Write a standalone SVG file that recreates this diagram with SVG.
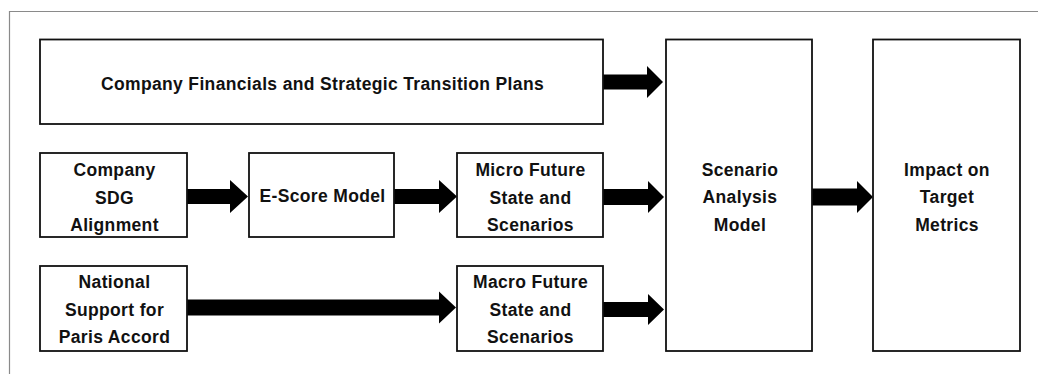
<svg xmlns="http://www.w3.org/2000/svg" width="1038" height="374" viewBox="0 0 1038 374">
  <style>
    .box { fill: #ffffff; stroke: #111111; stroke-width: 1.8; }
    .lbl { font-family: "Liberation Sans", Arial, sans-serif; font-weight: bold; font-size: 17.5px; letter-spacing: 0.35px; fill: #111111; text-anchor: middle; }
    .arrow { fill: #000000; stroke: none; }
    .frame { fill: none; stroke: #8a8a8a; stroke-width: 1.2; }
  </style>
  <rect width="1038" height="374" fill="#ffffff"/>
  <path class="frame" d="M9.5,374 L9.5,11.5 L1038,11.5"/>

  <g id="connectors">
    <polygon class="arrow" points="603,74.5 647,74.5 647,66 663,82 647,98 647,89.5 603,89.5"/>
    <polygon class="arrow" points="187,189 230,189 230,180 248,196.5 230,213 230,204 187,204"/>
    <polygon class="arrow" points="394,189 439,189 439,180 457,196.5 439,213 439,204 394,204"/>
    <polygon class="arrow" points="603,189 648,189 648,181 664,197 648,213 648,205 603,205"/>
    <polygon class="arrow" points="187,299.5 439,299.5 439,291.5 456,307.5 439,323.5 439,315.5 187,315.5"/>
    <polygon class="arrow" points="603,302 648,302 648,294 664,309.5 648,325 648,317 603,317"/>
    <polygon class="arrow" points="812,188.5 857,188.5 857,181 873,197 857,213 857,205.5 812,205.5"/>
  </g>

  <g id="node-financials">
    <rect class="box" x="40" y="39.5" width="563" height="84.5"/>
    <text class="lbl" x="322.5" y="90">Company Financials and Strategic Transition Plans</text>
  </g>
  <g id="node-sdg">
    <rect class="box" x="40" y="153" width="147" height="84"/>
    <text class="lbl" x="114.5" y="176">Company</text>
    <text class="lbl" x="114.5" y="203.5">SDG</text>
    <text class="lbl" x="114.5" y="231">Alignment</text>
  </g>
  <g id="node-escore">
    <rect class="box" x="249" y="153" width="145" height="84"/>
    <text class="lbl" x="322.5" y="202">E-Score Model</text>
  </g>
  <g id="node-micro">
    <rect class="box" x="457" y="153" width="146" height="84"/>
    <text class="lbl" x="530.5" y="176">Micro Future</text>
    <text class="lbl" x="530.5" y="203.5">State and</text>
    <text class="lbl" x="530.5" y="231">Scenarios</text>
  </g>
  <g id="node-national">
    <rect class="box" x="40" y="266" width="147" height="85"/>
    <text class="lbl" x="114.5" y="288">National</text>
    <text class="lbl" x="114.5" y="315.5">Support for</text>
    <text class="lbl" x="114.5" y="343">Paris Accord</text>
  </g>
  <g id="node-macro">
    <rect class="box" x="457" y="266" width="146" height="85"/>
    <text class="lbl" x="530.5" y="288">Macro Future</text>
    <text class="lbl" x="530.5" y="315.5">State and</text>
    <text class="lbl" x="530.5" y="343">Scenarios</text>
  </g>
  <g id="node-scenario">
    <rect class="box" x="666" y="39.5" width="146" height="311.5"/>
    <text class="lbl" x="740" y="175.5">Scenario</text>
    <text class="lbl" x="740" y="203">Analysis</text>
    <text class="lbl" x="740" y="230.5">Model</text>
  </g>
  <g id="node-impact">
    <rect class="box" x="873" y="39.5" width="147" height="311.5"/>
    <text class="lbl" x="947" y="175.5">Impact on</text>
    <text class="lbl" x="947" y="203">Target</text>
    <text class="lbl" x="947" y="230.5">Metrics</text>
  </g>
</svg>
